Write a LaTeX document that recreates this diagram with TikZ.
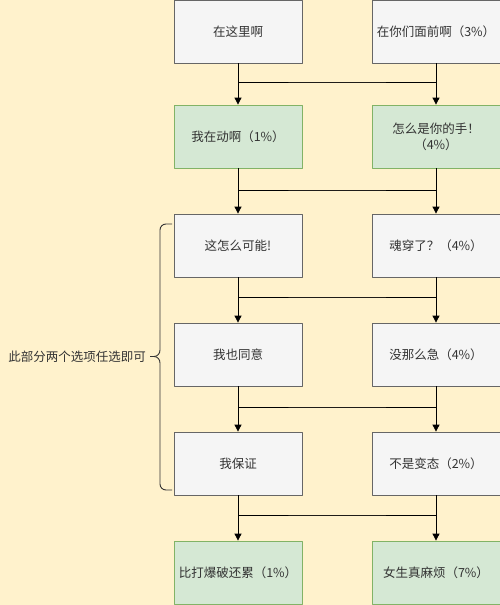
\documentclass[tikz,border=0pt]{standalone}
\usepackage{fontspec}
\newfontfamily\cjk{Noto Sans CJK SC}
\usetikzlibrary{arrows.meta}
\definecolor{paper}{HTML}{FFF2CC}
\definecolor{greyfill}{HTML}{F5F5F5}
\definecolor{greyline}{HTML}{666666}
\definecolor{greenfill}{HTML}{D5E8D4}
\definecolor{greenline}{HTML}{82B366}
\definecolor{ink}{HTML}{333333}
\tikzset{
  choice/.style={draw=greyline,fill=greyfill,text=ink,line width=0.8pt,
    minimum width=128pt,minimum height=63pt,inner sep=2pt,align=center},
  ending/.style={choice,draw=greenline,fill=greenfill},
  arr/.style={line width=0.8pt,-{Triangle[length=7pt,width=7pt]}},
}
\begin{document}
\begin{tikzpicture}[x=1pt,y=-1pt,font=\cjk\fontsize{12.5}{16}\selectfont,line join=round]
	\fill[paper] (0,0) rectangle (500,605);
	\useasboundingbox (0,0) rectangle (500,605);
	% two columns of choices
	\node[choice] (l1) at (238,31.5) {在这里啊};
	\node[choice] (r1) at (436,31.5) {在你们面前啊（3\%）};
	\node[ending] (l2) at (238,136.5) {我在动啊（1\%）};
	\node[ending] (r2) at (436,136.5) {怎么是你的手！\\（4\%）};
	\node[choice] (l3) at (238,245.5) {这怎么可能!};
	\node[choice] (r3) at (436,245.5) {魂穿了？（4\%）};
	\node[choice] (l4) at (238,354.5) {我也同意};
	\node[choice] (r4) at (436,354.5) {没那么急（4\%）};
	\node[choice] (l5) at (238,463.5) {我保证};
	\node[choice] (r5) at (436,463.5) {不是变态（2\%）};
	\node[ending] (l6) at (238,572.5) {比打爆破还累（1\%）};
	\node[ending] (r6) at (436,572.5) {女生真麻烦（7\%）};
	% joints between rows
	\foreach \j/\y in {1/82,2/190,3/297,4/407,5/515}\coordinate (j\j) at (337,\y);
	\foreach \a/\b in {1/2,2/3,3/4,4/5,5/6}{
		\draw[arr] (l\a) |- (j\a) -| (r\b);
		\draw[arr] (r\a) |- (j\a) -| (l\b);
	}
	% brace with note
	\draw[ink,line width=0.9pt] (172,224) -- (166,224) to[out=180,in=90] (160,230) -- (160,350)
		to[out=-90,in=0] (154,356.5) -- (150,356.5);
	\draw[ink,line width=0.9pt] (150,356.5) -- (154,356.5) to[out=0,in=90] (160,363) -- (160,484)
		to[out=-90,in=180] (166,490) -- (172,490);
	\node[text=ink,anchor=east,inner sep=0pt] (note) at (146,356.5) {此部分两个选项任选即可};
\end{tikzpicture}
\end{document}
